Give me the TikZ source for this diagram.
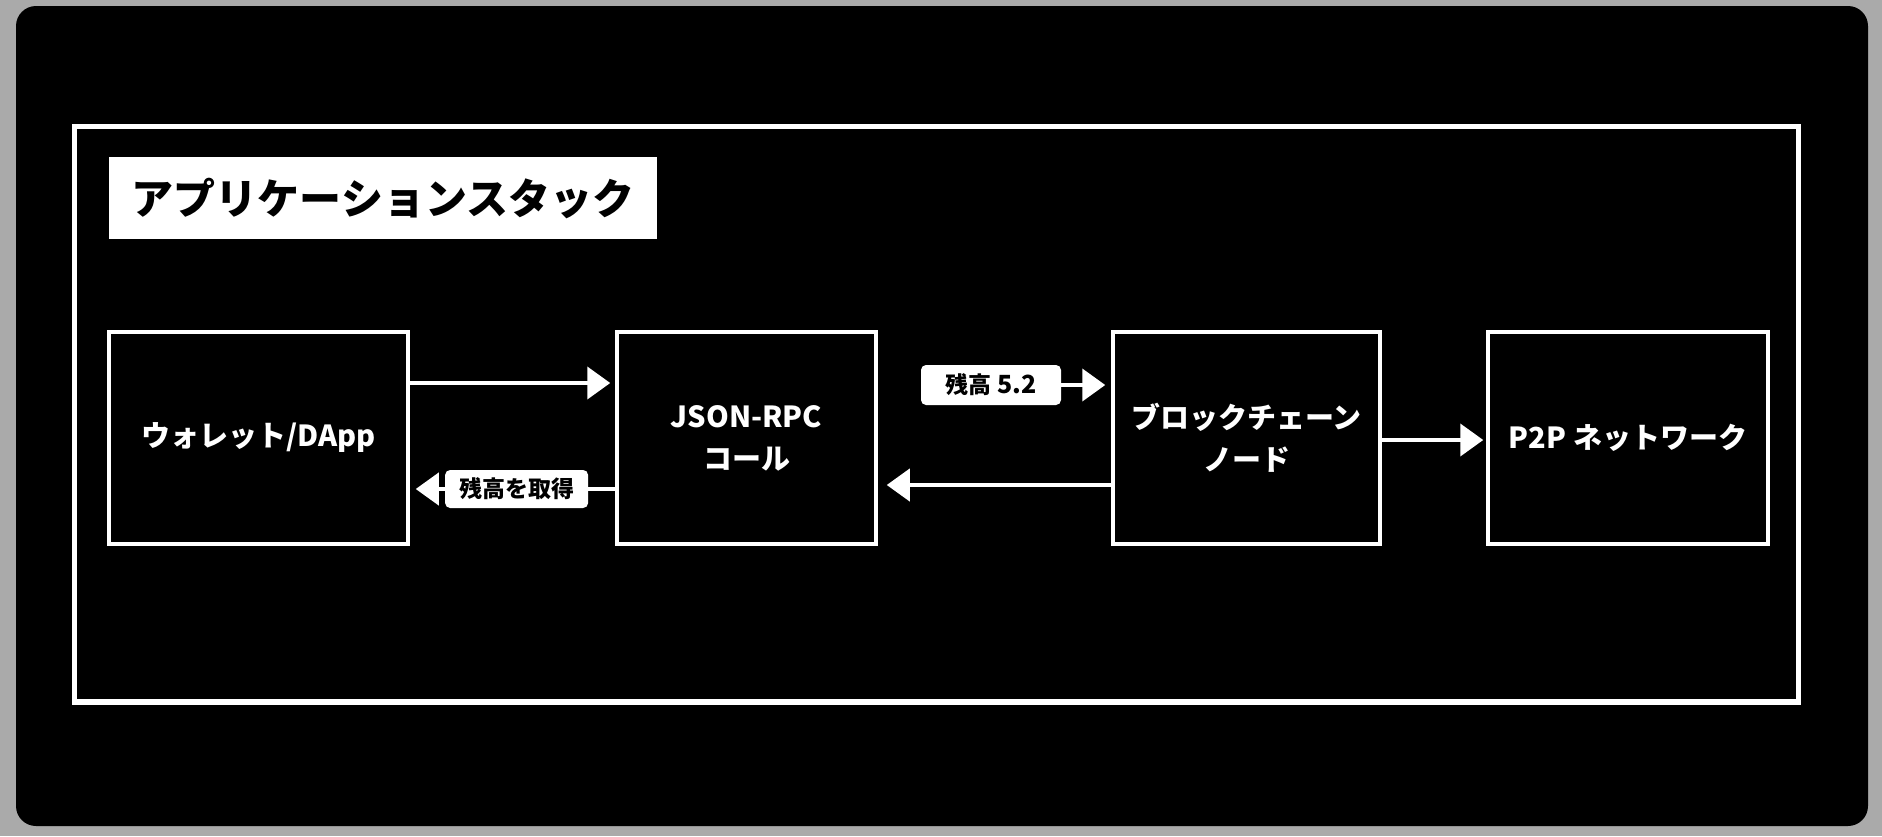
\documentclass[tikz,border=0pt]{standalone}
\usepackage{fontspec}
\setmainfont{Noto Sans CJK JP}
\usetikzlibrary{arrows.meta}
\definecolor{bggray}{RGB}{170,170,170}
\tikzset{
  x=1pt, y=-1pt,
  block/.style={draw=white, line width=3.5pt, fill=black, text=white,
    font=\fontsize{29}{42}\selectfont\bfseries, align=center, inner sep=0pt},
  tag/.style={fill=white, text=black, rounded corners=5pt,
    font=\fontsize{23}{27}\selectfont\bfseries, inner sep=0pt},
  arr/.style={draw=white, line width=4pt,
    -{Triangle[length=23pt, width=32pt]}},
}
\begin{document}
\begin{tikzpicture}
\useasboundingbox (0,0) rectangle (1882,836);
\fill[bggray] (0,0) rectangle (1882,836);
\fill[black, rounded corners=20pt] (16,6) rectangle (1868,826);
\draw[white, line width=5.5pt] (74.5,126.5) rectangle (1798.5,702);

\node[fill=white, text=black, minimum width=548pt, minimum height=82pt,
  inner sep=0pt, font=\fontsize{42}{48}\selectfont\bfseries] (title) at (383,198) {アプリケーションスタック};

\node[block, minimum width=299pt, minimum height=212pt] (wallet) at (258.5,438) {ウォレット/DApp};
\node[block, minimum width=259pt, minimum height=212pt] (rpc) at (746.5,438) {JSON-RPC\\コール};
\node[block, minimum width=267pt, minimum height=212pt] (node) at (1246.5,438) {ブロックチェーン\\ノード};
\node[block, minimum width=280pt, minimum height=212pt] (p2p) at (1628,438) {P2P ネットワーク};

\draw[arr, shorten >=5pt] ([yshift=55pt]wallet.east) -- ([yshift=55pt]rpc.west);
\draw[arr, shorten >=6pt] ([yshift=-51pt]rpc.west) -- ([yshift=-51pt]wallet.east)
  node[tag, pos=0.48, minimum width=143pt, minimum height=38pt] (getbal) {残高を取得};
\node[tag, minimum width=140pt, minimum height=40pt] (bal) at (991,385) {残高 \fontsize{25}{27}\selectfont 5.2};
\draw[arr, shorten >=6pt] (bal.east) -- (bal.east -| node.west);
\draw[arr, shorten >=9pt] ([yshift=-47pt]node.west) -- ([yshift=-47pt]rpc.east);
\draw[arr, shorten >=3pt] ([yshift=-2pt]node.east) -- ([yshift=-2pt]p2p.west);
\end{tikzpicture}
\end{document}
